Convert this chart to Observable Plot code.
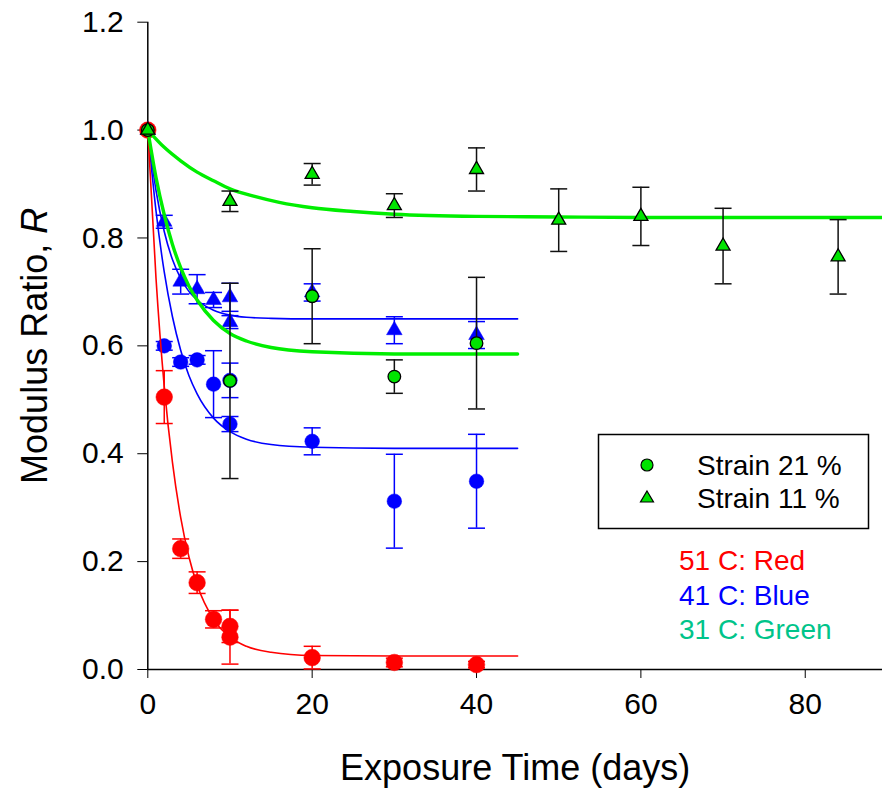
<!DOCTYPE html>
<html>
<head>
<meta charset="utf-8">
<script src="https://cdn.jsdelivr.net/npm/d3@7"></script>
<script src="https://cdn.jsdelivr.net/npm/@observablehq/plot@0.6"></script>
<style>
  html, body { margin: 0; padding: 0; background: white; }
  #wrap { position: relative; width: 882px; height: 793px; font-family: "Liberation Sans", Arial, sans-serif; }
  #legend { position: absolute; left: 0; top: 0; pointer-events: none; }
</style>
</head>
<body>
<div id="wrap"></div>
<script>
// ---------- data ----------
const xTicks = [0, 20, 40, 60, 80];
const yTicks = [0, 0.2, 0.4, 0.6, 0.8, 1.0, 1.2];

// 51 C (red), strain 21 % (circles)
const red21X   = [0, 2, 4, 6, 8, 10, 10, 20, 30, 40];
const red21Y   = [1.0, 0.505, 0.224, 0.161, 0.093, 0.080, 0.060, 0.022, 0.013, 0.009];
const red21Err = [0, 0.049, 0.018, 0.020, 0.016, 0.030, 0.050, 0.021, 0.008, 0.006];

// 41 C (blue), strain 21 % (circles)
const blue21X   = [0, 2, 4, 6, 8, 10, 10, 20, 30, 40];
const blue21Y   = [1.0, 0.600, 0.570, 0.574, 0.529, 0.536, 0.455, 0.423, 0.312, 0.349];
const blue21Err = [0, 0.008, 0.008, 0.008, 0.062, 0.032, 0.014, 0.025, 0.087, 0.087];

// 41 C (blue), strain 11 % (triangles)
const blue11X   = [0, 2, 4, 6, 8, 10, 10, 20, 30, 40];
const blue11Y   = [1.0, 0.830, 0.719, 0.705, 0.685, 0.690, 0.644, 0.699, 0.629, 0.620];
const blue11Err = [0, 0.012, 0.023, 0.027, 0.014, 0.026, 0.012, 0.016, 0.025, 0.025];

// 31 C (green), strain 21 % (circles)
const green21X   = [0, 10, 20, 30, 40];
const green21Y   = [1.0, 0.535, 0.692, 0.543, 0.605];
const green21Err = [0, 0.181, 0.088, 0.031, 0.122];

// 31 C (green), strain 11 % (triangles)
const green11X   = [0, 10, 20, 30, 40, 50, 60, 70, 84];
const green11Y   = [1.0, 0.868, 0.918, 0.860, 0.927, 0.833, 0.840, 0.785, 0.765];
const green11Err = [0, 0.019, 0.020, 0.022, 0.040, 0.058, 0.054, 0.070, 0.069];

// fitted curves
const fitX        = [0, 1, 2, 3, 4, 5, 6, 8, 10, 12, 15, 20, 30, 45];
const redFitY     = [1.0, 0.725, 0.525, 0.384, 0.282, 0.209, 0.157, 0.093, 0.060, 0.043, 0.032, 0.026, 0.025, 0.025];
const blue21FitY  = [1.0, 0.850, 0.737, 0.654, 0.592, 0.545, 0.511, 0.466, 0.441, 0.427, 0.417, 0.412, 0.410, 0.410];
const blue11FitY  = [1.0, 0.888, 0.812, 0.760, 0.725, 0.701, 0.685, 0.666, 0.657, 0.653, 0.651, 0.650, 0.650, 0.650];
const green21FitY = [1.0, 0.912, 0.843, 0.788, 0.745, 0.711, 0.685, 0.647, 0.623, 0.609, 0.597, 0.589, 0.585, 0.585];
const green11FitX = [0, 2, 4, 6, 8, 10, 13, 16, 20, 25, 30, 40, 50, 60, 70, 80, 90];
const green11FitY = [1.0, 0.968, 0.943, 0.922, 0.906, 0.891, 0.877, 0.866, 0.856, 0.849, 0.844, 0.840, 0.839, 0.838, 0.838, 0.838, 0.838];

const legendLabels = ["Strain 21 %", "Strain 11 %"];
const tempLabels = ["51 C: Red", "41 C: Blue", "31 C: Green"];

// ---------- build tables ----------
const pts = (xs, ys, es) => xs.map((x, i) => ({x, y: ys[i], lo: ys[i] - es[i], hi: ys[i] + es[i], e: es[i]}));
const curve = (xs, ys) => xs.map((x, i) => ({x, y: ys[i]}));

const red21 = pts(red21X, red21Y, red21Err);
const blue21 = pts(blue21X, blue21Y, blue21Err);
const blue11 = pts(blue11X, blue11Y, blue11Err);
const green21 = pts(green21X, green21Y, green21Err);
const green11 = pts(green11X, green11Y, green11Err);

const RED = "#ff0000", BLUE = "#0000ff", GREEN = "#00e400", GREENLINE = "#00ee00";

const cap = { draw(ctx, size) { const w = Math.sqrt(size / Math.PI); ctx.moveTo(-w, 0); ctx.lineTo(w, 0); } };

function errorBars(data, color) {
  const d = data.filter(p => p.e > 0);
  return [
    Plot.ruleX(d, {x: "x", y1: "lo", y2: "hi", stroke: color, strokeWidth: 1.5}),
    Plot.dot(d, {x: "x", y: "lo", symbol: cap, r: 8.5, stroke: color, strokeWidth: 1.5, fill: "none"}),
    Plot.dot(d, {x: "x", y: "hi", symbol: cap, r: 8.5, stroke: color, strokeWidth: 1.5, fill: "none"})
  ];
}

const chart = Plot.plot({
  width: 882,
  height: 793,
  marginTop: 21.7,
  marginBottom: 124,
  marginLeft: 147.3,
  marginRight: 0,
  style: {fontFamily: "'Liberation Sans', Arial, sans-serif", fontSize: "30px", color: "black", background: "white"},
  x: {domain: [0, 89.4], ticks: xTicks, tickSize: 9, tickPadding: 14, label: "Exposure Time (days)", labelAnchor: "center", labelOffset: 110, labelArrow: "none"},
  y: {domain: [0, 1.2], ticks: yTicks, tickFormat: d3.format(".1f"), tickSize: 10, tickPadding: 14, label: "Modulus Ratio, R", labelAnchor: "center", labelOffset: 126, labelArrow: "none"},
  marks: [
    Plot.ruleY([0], {stroke: "black", strokeWidth: 1.5}),
    Plot.ruleX([0], {stroke: "black", strokeWidth: 1.5}),

    // 41 C
    Plot.line(curve(fitX, blue21FitY), {x: "x", y: "y", stroke: BLUE, strokeWidth: 1.6, curve: "monotone-x"}),
    Plot.line(curve(fitX, blue11FitY), {x: "x", y: "y", stroke: BLUE, strokeWidth: 1.6, curve: "monotone-x"}),
    ...errorBars(blue21, BLUE),
    ...errorBars(blue11, BLUE),
    Plot.dot(blue21, {x: "x", y: "y", r: 7.3, fill: BLUE, stroke: BLUE, strokeWidth: 0.5}),
    Plot.dot(blue11, {x: "x", y: "y", r: 5.8, symbol: "triangle", fill: BLUE, stroke: BLUE, strokeWidth: 0.5}),

    // 51 C
    Plot.line(curve(fitX, redFitY), {x: "x", y: "y", stroke: RED, strokeWidth: 1.6, curve: "monotone-x"}),
    ...errorBars(red21, RED),
    Plot.dot(red21, {x: "x", y: "y", r: 8.3, fill: RED, stroke: RED, strokeWidth: 0.5}),

    // 31 C
    Plot.line(curve(fitX, green21FitY), {x: "x", y: "y", stroke: GREENLINE, strokeWidth: 3.4, curve: "monotone-x"}),
    Plot.line(curve(green11FitX, green11FitY), {x: "x", y: "y", stroke: GREENLINE, strokeWidth: 3.4, curve: "monotone-x", clip: true}),
    ...errorBars(green21, "#111"),
    ...errorBars(green11, "#111"),
    Plot.dot(green21, {x: "x", y: "y", r: 6.3, fill: GREEN, stroke: "black", strokeWidth: 1.3}),
    Plot.dot(green11, {x: "x", y: "y", r: 5.2, symbol: "triangle", fill: GREEN, stroke: "black", strokeWidth: 1.3})
  ]
});

// italic R in the y label, larger axis titles
chart.querySelectorAll("text").forEach(t => {
  const s = t.textContent.trim();
  if (s === "Modulus Ratio, R") {
    t.textContent = "Modulus Ratio, ";
    const ts = document.createElementNS("http://www.w3.org/2000/svg", "tspan");
    ts.setAttribute("font-style", "italic");
    ts.textContent = "R";
    t.appendChild(ts);
    t.setAttribute("font-size", "36px");
    t.style.fontSize = "36px";
  } else if (s === "Exposure Time (days)") {
    t.setAttribute("font-size", "36px");
    t.style.fontSize = "36px";
  }
});

const wrap = document.getElementById("wrap");
wrap.appendChild(chart);

// legend overlay
const ns = "http://www.w3.org/2000/svg";
const lg = document.createElementNS(ns, "svg");
lg.setAttribute("id", "legend");
lg.setAttribute("width", 882);
lg.setAttribute("height", 793);
lg.setAttribute("font-family", "'Liberation Sans', Arial, sans-serif");
function el(name, attrs, text) {
  const e = document.createElementNS(ns, name);
  for (const k in attrs) e.setAttribute(k, attrs[k]);
  if (text != null) e.textContent = text;
  lg.appendChild(e);
  return e;
}
el("rect", {x: 598.5, y: 434.5, width: 270, height: 94, fill: "white", stroke: "black", "stroke-width": 1.5});
el("circle", {cx: 647, cy: 465, r: 6, fill: GREEN, stroke: "black", "stroke-width": 1.2});
el("path", {d: "M647,491 L653.5,502 L640.5,502 Z", fill: GREEN, stroke: "black", "stroke-width": 1.2});
el("text", {x: 697, y: 475, "font-size": 28, fill: "black"}, legendLabels[0]);
el("text", {x: 697, y: 508, "font-size": 28, fill: "black"}, legendLabels[1]);
el("text", {x: 679, y: 570, "font-size": 28, fill: RED}, tempLabels[0]);
el("text", {x: 679, y: 605, "font-size": 28, fill: BLUE}, tempLabels[1]);
el("text", {x: 679, y: 639, "font-size": 28, fill: "#00c48a"}, tempLabels[2]);
wrap.appendChild(lg);
</script>
</body>
</html>
